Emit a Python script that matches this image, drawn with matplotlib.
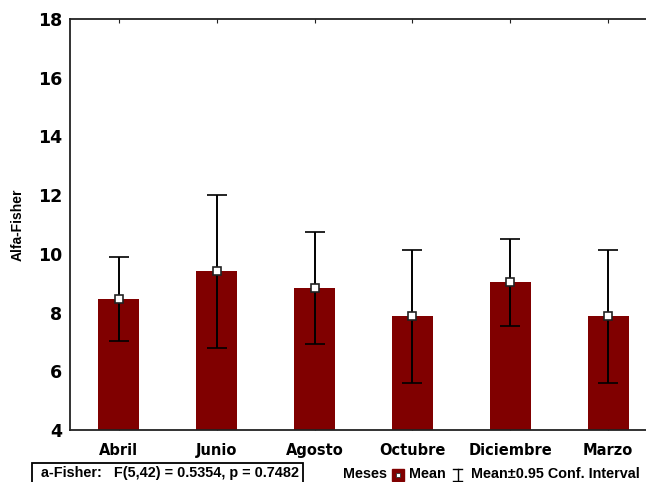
import numpy as np
import matplotlib
matplotlib.use('Agg')
import matplotlib.pyplot as plt
import matplotlib.transforms as mtransforms
from matplotlib.lines import Line2D
from matplotlib.patches import Rectangle

plt.rcParams['font.family'] = ['Liberation Sans', 'DejaVu Sans']

months = ['Abril', 'Junio', 'Agosto', 'Octubre', 'Diciembre', 'Marzo']
means = [8.46, 9.40, 8.84, 7.88, 9.04, 7.88]
upper = [9.88, 12.02, 10.74, 10.13, 10.52, 10.13]
lower = [7.02, 6.78, 6.94, 5.61, 7.55, 5.61]

W, H = 646, 482
fig = plt.figure(figsize=(W / 100, H / 100), dpi=100)

def fx(px):
    return px / W

def fy(py):
    return 1 - py / H

# axes runs past the right edge of the picture, as in the original
ax = fig.add_axes([fx(70), fy(430), fx(657) - fx(70), fy(19) - fy(430)])

x = np.arange(len(months))
m = np.array(means)
err = [m - np.array(lower), np.array(upper) - m]
ax.bar(x, m - 4, bottom=4, width=0.42, color='#800000', zorder=2)
ax.errorbar(x, m, yerr=err, fmt='s', color='black', ecolor='black',
            elinewidth=1.4, capsize=7, capthick=1.4, markersize=6,
            markerfacecolor='white', markeredgecolor='#222222',
            markeredgewidth=1.2, zorder=3)

ax.set_xlim(-0.5, 5.5)
ax.set_ylim(4, 18)
ax.set_yticks(np.arange(4, 19, 2))
ax.set_xticks(x)
ax.set_xticklabels([])
# month names on a common baseline
trans = mtransforms.blended_transform_factory(ax.transData, fig.transFigure)
for xi, name in zip(x, months):
    ax.text(xi, fy(455), name, transform=trans, ha='center', va='baseline',
            fontsize=10.5, fontweight='bold', family='DejaVu Sans', clip_on=False)
for lbl in ax.get_yticklabels():
    lbl.set_fontsize(12.5)
    lbl.set_fontweight('bold')
    lbl.set_family('DejaVu Sans')
ax.tick_params(axis='y', length=0, pad=5.5)
ax.tick_params(axis='x', direction='in', length=3, top=True, color='#222222')
for s in ax.spines.values():
    s.set_color('#222222')
    s.set_linewidth(1.3)
ax.set_ylabel('Alfa-Fisher', fontsize=10, fontweight='bold', labelpad=10)

# stats box under the chart
fig.add_artist(Rectangle((fx(32), fy(490)), fx(303) - fx(32), fy(463) - fy(490),
                         transform=fig.transFigure, fill=False,
                         edgecolor='black', linewidth=1.3))
fig.text(fx(41), fy(473), 'a-Fisher:   F(5,42) = 0.5354, p = 0.7482',
         fontsize=10.4, fontweight='bold', va='center', ha='left')

# legend
fig.text(fx(343), fy(474.5), 'Meses', fontsize=10.4, fontweight='bold', va='center')
fig.add_artist(Line2D([fx(398)], [fy(475)], transform=fig.transFigure,
                      marker='s', markersize=8, markerfacecolor='#800000',
                      markeredgecolor='#800000', linestyle='none'))
fig.add_artist(Line2D([fx(398)], [fy(475)], transform=fig.transFigure,
                      marker='s', markersize=3.2, markerfacecolor='white',
                      markeredgecolor='#333333', markeredgewidth=0.6,
                      linestyle='none'))
fig.text(fx(409), fy(474.5), 'Mean', fontsize=10.4, fontweight='bold', va='center')
for seg in ([(453, 469), (462, 469)], [(453, 481), (462, 481)], [(457.5, 469), (457.5, 481)]):
    fig.add_artist(Line2D([fx(p[0]) for p in seg], [fy(p[1]) for p in seg],
                          transform=fig.transFigure, color='black', linewidth=1))
fig.text(fx(471), fy(474.5), 'Mean\u00b10.95 Conf. Interval', fontsize=10.4,
         fontweight='bold', va='center')

fig.savefig('out.png', dpi=100)
